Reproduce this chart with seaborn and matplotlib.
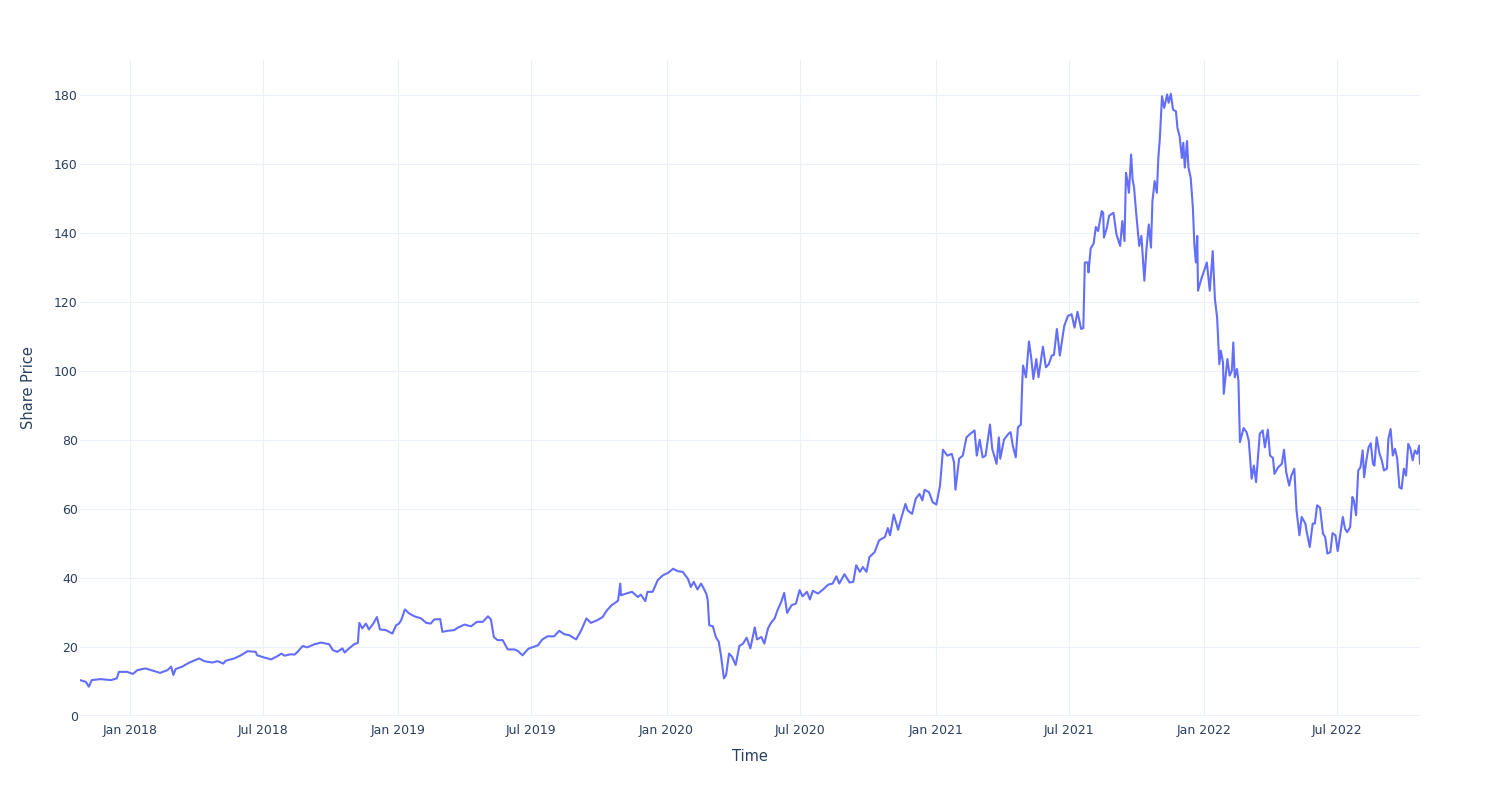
import numpy as np
import pandas as pd
import matplotlib
matplotlib.use("Agg")
import matplotlib.pyplot as plt
import matplotlib.dates as mdates
import seaborn as sns

# ---- data ----
start_date = "2018-01-01"
day_offsets = [
    -68, -60, -56, -52, -40, -26, -18, -15, -4, 4, 10, 21, 33, 41, 51, 56, 59, 62, 71, 80,
    94, 101, 112, 119, 127, 130, 142, 151, 160, 171, 173, 182, 192, 201, 206, 210, 219, 224,
    228, 235, 241, 251, 260, 271, 276, 282, 289, 292, 298, 305, 310, 312, 316, 321, 325, 331,
    336, 340, 348, 357, 362, 366, 369, 374, 380, 387, 396, 403, 409, 414, 422, 425, 432, 441,
    446, 455, 464, 472, 480, 487, 491, 495, 500, 507, 514, 523, 528, 534, 541,
    543, 555, 561, 568, 577, 584, 591, 598, 607, 614, 621, 627, 636, 643, 648, 655, 664, 667,
    668, 675, 683, 691, 695, 701, 704, 711, 718, 725, 732, 739, 745, 752, 759,
    763, 767, 772, 777, 784, 786, 788, 793, 797, 801, 804, 808, 811, 815, 819, 824, 829, 834,
    839, 844, 850, 853, 859, 863, 868, 872, 877, 881, 886, 890, 894, 900, 906, 911, 915, 921,
    925, 929, 936, 943, 950, 956, 961, 965, 972, 979, 984, 988, 993,
    997, 1002, 1006, 1013, 1019, 1027, 1031, 1034, 1039, 1045, 1049, 1055, 1058, 1064, 1069,
    1074, 1078, 1081, 1087, 1092, 1097, 1102, 1106, 1112, 1118, 1121, 1123, 1128, 1133, 1138,
    1143, 1149, 1152, 1156, 1160, 1164, 1170, 1173, 1179, 1182, 1184, 1189, 1195, 1198, 1201,
    1205, 1208, 1212, 1214, 1215, 1219, 1223, 1226, 1229, 1233, 1236, 1242, 1246, 1250, 1254,
    1257, 1261, 1265, 1271, 1276, 1281, 1285, 1289, 1294, 1297, 1299, 1303, 1304, 1307, 1311,
    1314, 1317, 1322, 1324, 1325, 1329, 1332, 1335, 1338, 1342, 1347, 1350, 1353, 1355, 1357,
    1359, 1362, 1364, 1366, 1369, 1373, 1376, 1380, 1383, 1386, 1389, 1391, 1394, 1397, 1399,
    1401, 1404, 1407, 1409, 1411, 1413, 1416, 1419, 1423, 1425, 1428, 1431, 1433, 1435, 1438,
    1440, 1443, 1446, 1448, 1450, 1452, 1453, 1458, 1462, 1465, 1469, 1473, 1476,
    1479, 1482, 1484, 1487, 1488, 1493, 1496, 1499, 1501, 1503, 1506, 1508, 1510, 1515, 1519,
    1522, 1526, 1529, 1532, 1537, 1541, 1544, 1548, 1551, 1555, 1557, 1562, 1567, 1570, 1573,
    1577, 1580, 1584, 1587, 1591, 1594, 1599, 1601, 1605, 1609, 1612, 1615, 1619, 1623, 1626,
    1629, 1633, 1636, 1640, 1643, 1646, 1650, 1653, 1656, 1660, 1663, 1665, 1668, 1671, 1674,
    1677, 1679, 1682, 1685, 1688, 1691, 1693, 1696, 1700, 1703, 1706, 1710, 1712, 1715, 1718,
    1721, 1724, 1727, 1730, 1733, 1736, 1739, 1742, 1745, 1748, 1751, 1754, 1755,
]
share_price = [
    10.4, 9.9, 8.5, 10.4, 10.7, 10.4, 10.9, 12.8, 12.8, 12.2, 13.3, 13.8, 13.0, 12.5, 13.3, 14.3, 11.9, 13.6, 14.3, 15.4,
    16.7, 15.9, 15.5, 15.9, 15.2, 16.0, 16.7, 17.6, 18.8, 18.6, 17.6, 17.0, 16.4, 17.4, 18.1, 17.5, 17.9, 17.8,
    18.6, 20.3, 19.9, 20.8, 21.3, 20.8, 19.1, 18.6, 19.6, 18.4, 19.6, 20.8, 21.2, 27.0, 25.4, 26.8, 25.1, 26.8,
    28.7, 25.1, 24.9, 23.9, 26.3, 26.8, 27.8, 30.9, 29.7, 28.9, 28.3, 27.0, 26.8, 28.0, 28.1, 24.4, 24.7, 24.9,
    25.6, 26.5, 26.0, 27.3, 27.3, 28.9, 28.0, 22.9, 22.0, 22.0, 19.3, 19.3, 18.8, 17.6, 19.3,
    19.6, 20.5, 22.2, 23.1, 23.1, 24.7, 23.7, 23.4, 22.2, 24.9, 28.3, 27.0, 27.8, 28.7, 30.4, 32.1, 33.4, 38.4,
    35.0, 35.5, 36.0, 34.5, 35.2, 33.3, 36.0, 36.0, 39.4, 40.8, 41.5, 42.7, 42.0, 41.8, 39.8,
    37.4, 38.9, 36.7, 38.4, 35.5, 33.6, 26.3, 26.0, 22.9, 21.5, 17.6, 10.9, 11.9, 18.1, 17.2, 14.8, 20.3, 21.0,
    22.7, 19.6, 25.7, 22.2, 22.9, 21.0, 25.4, 27.0, 28.3, 30.7, 33.1, 35.7, 29.9, 32.1, 32.6, 36.5, 34.7, 36.0,
    33.8, 36.3, 35.5, 36.7, 38.1, 38.4, 40.5, 38.4, 41.1, 38.7, 38.9, 43.7, 41.8,
    43.2, 41.8, 46.1, 47.5, 50.9, 51.9, 54.5, 52.4, 58.4, 54.0, 57.2, 61.5, 59.6, 58.6, 63.0,
    64.4, 62.5, 65.6, 64.9, 62.0, 61.3, 66.8, 77.2, 75.5, 76.0, 73.6, 65.6, 74.6, 75.5, 80.8,
    81.8, 82.8, 75.5, 80.1, 75.0, 75.5, 84.5, 77.5, 73.1, 80.8, 74.6, 80.1, 81.8, 82.3, 78.4,
    75.0, 83.7, 84.5, 97.2, 101.6, 98.2, 108.6, 104.0, 97.7, 103.5, 98.2, 107.1, 101.1, 102.0, 104.5,
    104.7, 112.2, 104.5, 113.1, 116.0, 116.5, 112.6, 117.2, 112.2, 112.5, 131.5, 131.5, 128.6, 135.6, 137.0,
    141.8, 140.6, 146.4, 145.9, 138.7, 141.6, 145.0, 145.5, 145.9, 139.7, 136.3, 143.5, 137.7, 157.5, 155.1,
    151.7, 162.8, 155.6, 153.2, 145.5, 136.3, 139.2, 126.2, 135.8, 142.5, 135.8, 149.3, 155.1, 151.7, 161.8,
    167.2, 179.7, 176.3, 178.2, 180.2, 177.8, 180.4, 175.8, 175.3, 170.5, 168.1, 161.8, 166.2, 159.0, 166.7,
    159.0, 156.1, 147.4, 136.8, 131.5, 139.2, 123.3, 127.1, 129.5, 131.5, 123.3, 134.8, 120.9,
    115.5, 102.0, 105.9, 102.5, 93.4, 103.5, 98.7, 100.1, 108.3, 98.2, 100.6, 97.2, 79.4, 83.5, 82.3,
    79.9, 68.8, 72.6, 67.8, 81.8, 82.8, 77.9, 83.0, 75.5, 74.8, 70.2, 72.1, 73.1, 77.2, 70.7,
    66.8, 69.7, 71.7, 59.6, 52.4, 57.7, 55.8, 53.3, 49.0, 55.8, 55.8, 61.1, 60.4, 52.9, 51.9,
    47.1, 47.5, 53.0, 52.4, 47.8, 51.9, 57.7, 54.3, 53.3, 54.8, 63.5, 62.5, 58.2, 71.2, 72.1,
    77.0, 69.2, 74.1, 77.9, 79.1, 73.1, 72.6, 80.8, 76.0, 74.1, 71.2, 71.7, 80.4, 83.2, 75.5,
    77.5, 74.6, 66.3, 65.9, 71.7, 69.7, 78.9, 77.5, 74.1, 77.0, 76.0, 78.4, 73.1,
]
y_ticks = [0, 20, 40, 60, 80, 100, 120, 140, 160, 180]
x_title = "Time"
y_title = "Share Price"

dates = pd.to_datetime(start_date) + pd.to_timedelta(day_offsets, unit="D")
df = pd.DataFrame({"Time": dates, "Share Price": share_price})

# ---- style ----
sns.set_theme(style="white")
plt.rcParams["font.family"] = ["DejaVu Sans"]
grid_c = "#EBF0F8"
text_c = "#2a3f5f"

fig = plt.figure(figsize=(15, 8), dpi=100)
ax = fig.add_axes([80 / 1500, 1 - 716 / 800, 1340 / 1500, 656 / 800])

sns.lineplot(data=df, x="Time", y="Share Price", ax=ax, color="#636EFA", linewidth=1.5)

ax.set_xlim(dates.min(), dates.max())
ax.set_ylim(0, 190.2)
ax.set_yticks(y_ticks)
ax.xaxis.set_major_locator(mdates.MonthLocator(bymonth=[1, 7]))
ax.xaxis.set_major_formatter(mdates.DateFormatter("%b %Y"))

ax.grid(True, color=grid_c, linewidth=0.8)
ax.set_axisbelow(True)
ax.axhline(0, color=grid_c, linewidth=2, zorder=0)
for s in ax.spines.values():
    s.set_visible(False)
ax.tick_params(axis="both", length=0, labelsize=9, labelcolor=text_c)
ax.tick_params(axis="y", pad=1.5)
ax.tick_params(axis="x", pad=6)
ax.set_xlabel(x_title, fontsize=10.5, color=text_c, labelpad=8.5)
ax.set_ylabel(y_title, fontsize=10.5, color=text_c, labelpad=13)

fig.savefig("out.png", dpi=100, facecolor="white")
